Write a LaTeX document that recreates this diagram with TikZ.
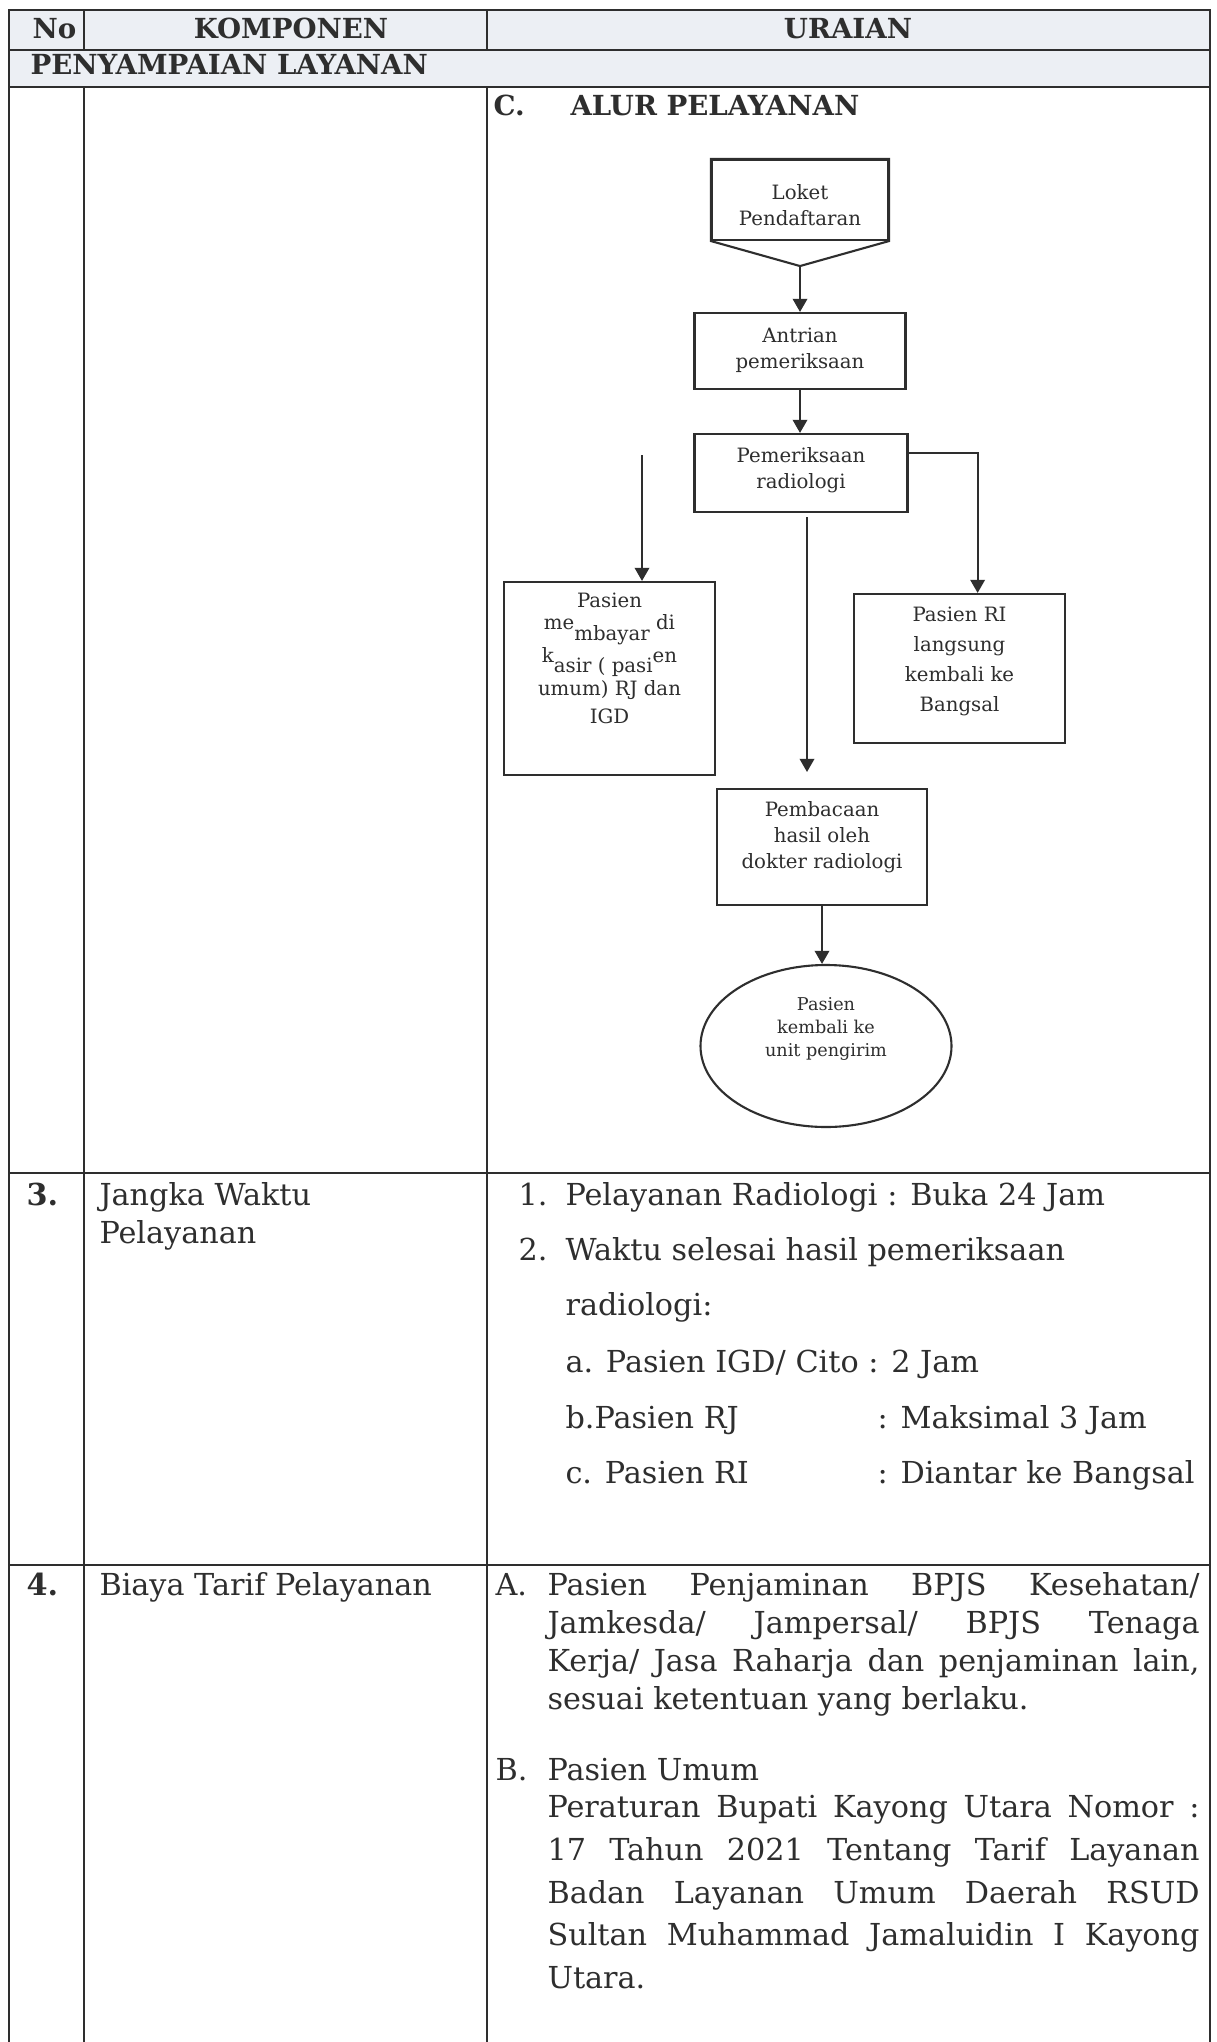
\documentclass[tikz,border=0pt]{standalone}
\usepackage{fontspec}
\setmainfont{DejaVu Serif}
\usetikzlibrary{calc, positioning, shapes.geometric, arrows.meta}

\definecolor{tinta}{HTML}{2E2E2E}
\definecolor{kepala}{HTML}{ECEFF4}
\newcommand{\px}{0.38pt}

\begin{document}
\begin{tikzpicture}[x=0.38pt, y=-0.38pt, >={Triangle[length=5pt, width=5.5pt]},
    garis/.style={draw=tinta, line width=0.9pt},
    kotak/.style={draw=tinta, line width=0.8pt, inner sep=0pt},
    panah/.style={->, draw=tinta, line width=0.8pt},
    tulisan/.style={text=tinta, align=center, inner sep=0pt, anchor=north, font=\fontsize{7.5}{9.9}\selectfont},
    judul/.style={text=tinta, inner sep=0pt, font=\fontsize{10.5}{12}\selectfont\bfseries},
    isi/.style={text=tinta, inner sep=0pt, font=\fontsize{11.5}{14.4}\selectfont}]

    \useasboundingbox (0,0) rectangle (1216,2042);
    \fill[white] (0,0) rectangle (1216,2042);

    % Latar kepala tabel
    \fill[kepala] (9,10) rectangle (1210,87);

    % Garis tabel
    \draw[garis] (9,2042) -- (9,10) -- (1210,10) -- (1210,2042);
    \draw[garis] (9,50) -- (1210,50);
    \draw[garis] (9,87) -- (1210,87);
    \draw[garis] (9,1173) -- (1210,1173);
    \draw[garis] (9,1565) -- (1210,1565);
    \draw[garis] (84,10) -- (84,50);
    \draw[garis] (487,10) -- (487,50);
    \draw[garis] (84,87) -- (84,2042);
    \draw[garis] (487,87) -- (487,2042);

    % Kepala
    \node[judul, anchor=base west] (no) at (32,39) {No};
    \node[judul, anchor=base] (komponen) at (291,39) {KOMPONEN};
    \node[judul, anchor=base] (uraian) at (848,39) {URAIAN};
    \node[judul, anchor=base west] (penyampaian) at (30,75) {PENYAMPAIAN LAYANAN};

    % Alur pelayanan
    \node[judul, anchor=base west] (hurufC) at (493,116) {C.};
    \node[judul, anchor=base west] (alur) at (570,116) {ALUR PELAYANAN};

    \node[kotak, minimum width=176*\px, minimum height=80*\px] (loket) at (800,200) {};
    \coordinate (loketUjung) at ($(loket.south)+(0,25)$);
    \draw[kotak] (loket.north west) -- (loket.north east) -- (loket.south east)
        -- (loketUjung) -- (loket.south west) -- cycle;
    \node[tulisan] (loketT) at ($(loket.north)+(0,25)$) {Loket\\Pendaftaran};

    \node[kotak, minimum width=211*\px, minimum height=76*\px] (antrian) at (800,351) {};
    \node[tulisan] (antrianT) at ($(antrian.north)+(0,15)$) {Antrian\\pemeriksaan};

    \node[kotak, minimum width=213*\px, minimum height=78*\px] (periksa) at (801,473) {};
    \node[tulisan] (periksaT) at ($(periksa.north)+(0,14)$) {Pemeriksaan\\radiologi};

    \node[kotak, minimum width=211*\px, minimum height=193*\px] (bayar) at (609.5,678.5) {};
    \node[tulisan, font=\fontsize{7.5}{10.6}\selectfont] (bayarT) at ($(bayar.north)+(0,11)$)
        {Pasien\\
         \raisebox{2pt}{me}\raisebox{-2pt}{mbayar} \raisebox{2pt}{di}\\
         \raisebox{2pt}{k}\raisebox{-2pt}{asir ( pasi}\raisebox{2pt}{en}\\
         umum) RJ dan\\IGD};

    \node[kotak, minimum width=211*\px, minimum height=149*\px] (ri) at (959.5,668.5) {};
    \node[tulisan, font=\fontsize{7.5}{11.4}\selectfont] (riT) at ($(ri.north)+(0,13)$)
        {Pasien RI\\langsung\\kembali ke\\Bangsal};

    \node[kotak, minimum width=210*\px, minimum height=116*\px] (baca) at (822,847) {};
    \node[tulisan] (bacaT) at ($(baca.north)+(0,13)$) {Pembacaan\\hasil oleh\\dokter radiologi};

    \node[kotak, ellipse, minimum width=251*\px, minimum height=162*\px] (selesai) at (826,1046) {};
    \node[tulisan, font=\fontsize{6.7}{8.7}\selectfont] (selesaiT) at ($(selesai.north)+(0,33)$)
        {Pasien\\kembali ke\\unit pengirim};

    % Panah
    \draw[panah] (loketUjung) -- (antrian.north);
    \draw[panah] (antrian.south) -- (antrian.south |- periksa.north);
    \draw[panah] ($(periksa.north east)!0.25!(periksa.south east)$)
        -| ($(ri.north west)!0.585!(ri.north east)$);
    \coordinate (bayarAwal) at (642,455);
    \draw[panah] (bayarAwal) -- (bayarAwal |- bayar.north);
    \coordinate (bacaAwal) at (807,517);
    \coordinate (bacaAkhir) at (807,772);
    \draw[panah] (bacaAwal) -- (bacaAkhir);
    \draw[panah] (baca.south) -- (baca.south |- selesai.north);

    % Baris 3
    \node[isi, anchor=base west, font=\fontsize{11.5}{14.4}\selectfont\bfseries] (no3) at (26,1205) {3.};
    \node[isi, anchor=north west, align=left] (waktu) at (99,1182) {Jangka Waktu\\Pelayanan};
    \node[isi, anchor=base west] (n1) at (518,1205) {1.};
    \node[isi, anchor=base west] (buka) at (565,1205) {Pelayanan Radiologi : Buka 24 Jam};
    \node[isi, anchor=base west] (n2) at (518,1260) {2.};
    \node[isi, anchor=base west] (selesaiHasil) at (565,1260) {Waktu selesai hasil pemeriksaan};
    \node[isi, anchor=base west] (radiologi) at (565,1315) {radiologi:};
    \node[isi, anchor=base west] (igd) at (565,1372) {a. Pasien IGD/ Cito : 2 Jam};
    \node[isi, anchor=base west] (rj) at (565,1428) {b.Pasien RJ};
    \node[isi, anchor=base west] (rjWaktu) at (877,1428) {: Maksimal 3 Jam};
    \node[isi, anchor=base west] (rinap) at (565,1483) {c. Pasien RI};
    \node[isi, anchor=base west] (rinapWaktu) at (877,1483) {: Diantar ke Bangsal};

    % Baris 4
    \node[isi, anchor=base west, font=\fontsize{11.5}{14.4}\selectfont\bfseries] (no4) at (26,1595) {4.};
    \node[isi, anchor=base west] (biaya) at (99,1595) {Biaya Tarif Pelayanan};
    \node[isi, anchor=base west] (hurufA) at (495,1595) {A.};
    \node[isi, anchor=north west, text width=247.8pt, align=justify] (jaminan) at (547,1572)
        {\noindent Pasien Penjaminan BPJS Kesehatan/\linebreak
         Jamkesda/ Jampersal/ BPJS Tenaga\linebreak
         Kerja/ Jasa Raharja dan penjaminan lain,\linebreak
         sesuai ketentuan yang berlaku.};
    \node[isi, anchor=base west] (hurufB) at (495,1780) {B.};
    \node[isi, anchor=base west] (umum) at (547,1780) {Pasien Umum};
    \node[isi, anchor=north west, text width=247.8pt, align=justify,
        font=\fontsize{11.5}{16.2}\selectfont] (perbup) at (547,1795)
        {\noindent Peraturan Bupati Kayong Utara Nomor :\linebreak
         17 Tahun 2021 Tentang Tarif Layanan\linebreak
         Badan Layanan Umum Daerah RSUD\linebreak
         Sultan Muhammad Jamaluidin I Kayong\linebreak
         Utara.};
\end{tikzpicture}
\end{document}
